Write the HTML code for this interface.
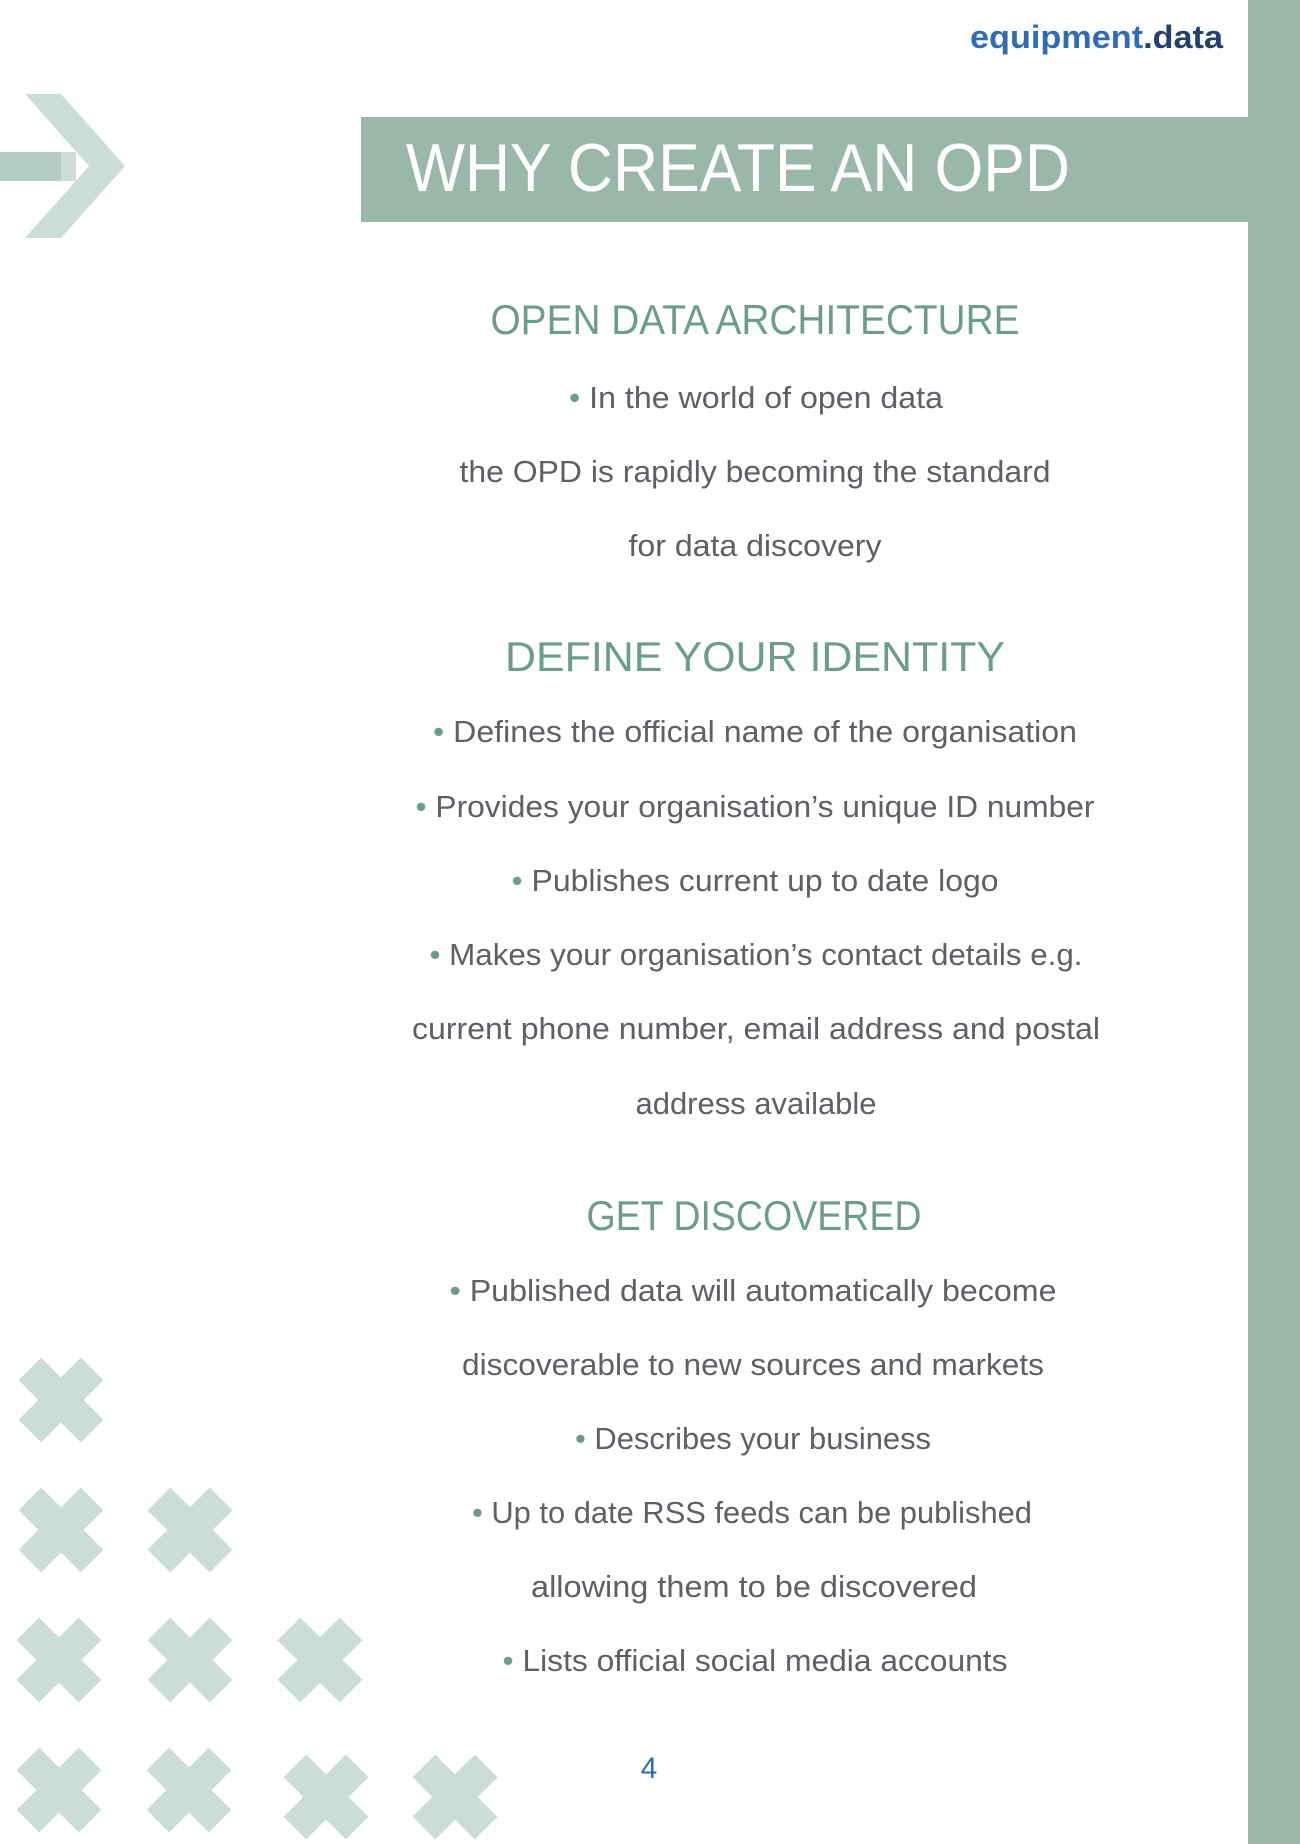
<!DOCTYPE html>
<html><head><meta charset="utf-8"><style>
html,body{margin:0;padding:0;background:#fff;}
svg{display:block;}
</style></head><body>
<svg width="1300" height="1844" viewBox="0 0 1300 1844" xmlns="http://www.w3.org/2000/svg">
<defs>
<g id="x"><rect x="-44" y="-16" width="88" height="32" transform="rotate(45)"/><rect x="-44" y="-16" width="88" height="32" transform="rotate(-45)"/></g>
</defs>
<rect x="1248" y="0" width="52" height="1844" fill="#9ab8aa"/>
<rect x="361" y="117" width="887" height="105" fill="#9ab8aa"/>
<text x="406" y="191" font-family="Liberation Sans, sans-serif" font-size="68" fill="#fff" textLength="664" lengthAdjust="spacingAndGlyphs">WHY CREATE AN OPD</text>
<text x="970" y="48" font-family="Liberation Sans, sans-serif" font-size="32" font-weight="bold" textLength="253" lengthAdjust="spacingAndGlyphs"><tspan fill="#2e6db4">equipment</tspan><tspan fill="#24406e">.data</tspan></text>
<polygon points="25,94 61,94 125,166 61,238 25,238 89,166" fill="#ccddd7"/>
<rect x="0" y="152" width="76" height="29" fill="#ccddd7"/>
<rect x="0" y="152" width="61" height="29" fill="#b3cdc4"/>
<g fill="#ccddd8">
<use href="#x" transform="translate(61,1400)"/>
<use href="#x" transform="translate(61,1530)"/>
<use href="#x" transform="translate(190,1530)"/>
<use href="#x" transform="translate(59,1660)"/>
<use href="#x" transform="translate(190,1660)"/>
<use href="#x" transform="translate(320,1660)"/>
<use href="#x" transform="translate(59,1790)"/>
<use href="#x" transform="translate(189,1790)"/>
<use href="#x" transform="translate(326,1797)"/>
<use href="#x" transform="translate(455,1797)"/>
</g>
<g font-family="Liberation Sans, sans-serif" text-anchor="middle">
<g font-size="42" fill="#6a9e88">
<text x="755" y="334" textLength="529" lengthAdjust="spacingAndGlyphs">OPEN DATA ARCHITECTURE</text>
<text x="755" y="671" textLength="500" lengthAdjust="spacingAndGlyphs">DEFINE YOUR IDENTITY</text>
<text x="754" y="1230" textLength="335" lengthAdjust="spacingAndGlyphs">GET DISCOVERED</text>
</g>
<g font-size="31" fill="#5e6066">
<text x="756" y="408" textLength="374" lengthAdjust="spacingAndGlyphs"><tspan fill="#6a9e88">• </tspan>In the world of open data</text>
<text x="755" y="482" textLength="591" lengthAdjust="spacingAndGlyphs">the OPD is rapidly becoming the standard</text>
<text x="755" y="556" textLength="253" lengthAdjust="spacingAndGlyphs">for data discovery</text>
<text x="755" y="742" textLength="644" lengthAdjust="spacingAndGlyphs"><tspan fill="#6a9e88">• </tspan>Defines the official name of the organisation</text>
<text x="755" y="817" textLength="679" lengthAdjust="spacingAndGlyphs"><tspan fill="#6a9e88">• </tspan>Provides your organisation’s unique ID number</text>
<text x="755" y="891" textLength="487" lengthAdjust="spacingAndGlyphs"><tspan fill="#6a9e88">• </tspan>Publishes current up to date logo</text>
<text x="756" y="965" textLength="653" lengthAdjust="spacingAndGlyphs"><tspan fill="#6a9e88">• </tspan>Makes your organisation’s contact details e.g.</text>
<text x="756" y="1039" textLength="688" lengthAdjust="spacingAndGlyphs">current phone number, email address and postal</text>
<text x="756" y="1114" textLength="241" lengthAdjust="spacingAndGlyphs">address available</text>
<text x="753" y="1301" textLength="607" lengthAdjust="spacingAndGlyphs"><tspan fill="#6a9e88">• </tspan>Published data will automatically become</text>
<text x="753" y="1375" textLength="582" lengthAdjust="spacingAndGlyphs">discoverable to new sources and markets</text>
<text x="753" y="1449" textLength="356" lengthAdjust="spacingAndGlyphs"><tspan fill="#6a9e88">• </tspan>Describes your business</text>
<text x="752" y="1523" textLength="560" lengthAdjust="spacingAndGlyphs"><tspan fill="#6a9e88">• </tspan>Up to date RSS feeds can be published</text>
<text x="754" y="1597" textLength="446" lengthAdjust="spacingAndGlyphs">allowing them to be discovered</text>
<text x="755" y="1671" textLength="505" lengthAdjust="spacingAndGlyphs"><tspan fill="#6a9e88">•  </tspan>Lists official social media accounts</text>
</g>
<text x="649" y="1778" font-size="30" fill="#2e6db4">4</text>
</g>
</svg>
</body></html>
